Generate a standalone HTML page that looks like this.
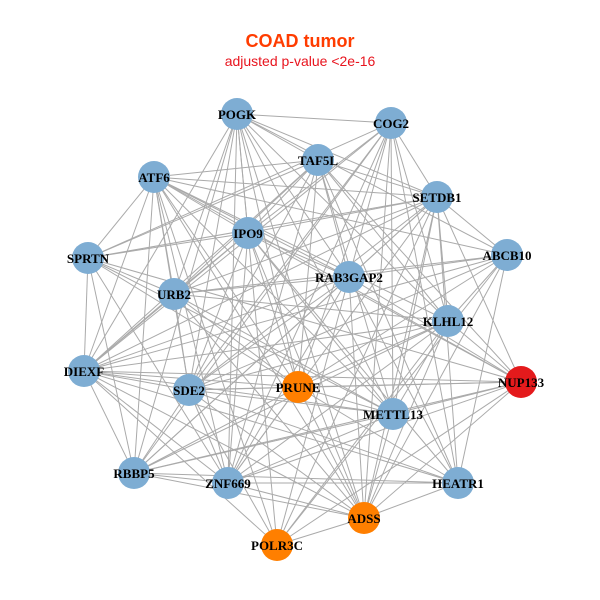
<!DOCTYPE html>
<html><head><meta charset="utf-8"><style>
html,body{margin:0;padding:0;background:#fff;}
svg{display:block;}
</style></head><body>
<svg id="g" width="600" height="600" xmlns="http://www.w3.org/2000/svg">
<rect width="600" height="600" fill="#fff"/>
<text x="300" y="47" text-anchor="middle" font-family="Liberation Sans, sans-serif" font-weight="bold" font-size="18" fill="#ff3c00">COAD tumor</text>
<text x="300" y="66" text-anchor="middle" font-family="Liberation Sans, sans-serif" font-size="14" fill="#e8141e">adjusted p-value &lt;2e-16</text>
<g id="edges" stroke="#aaaaaa" stroke-width="1"></g>
<g id="nodes"></g>
<g id="labels" font-family="Liberation Serif, serif" font-weight="bold" font-size="13" text-anchor="middle" fill="#000"></g>
</svg>
<script>
var N=[["POGK",237,114,"b"],["COG2",391,123,"b"],["TAF5L",318,160,"b"],["ATF6",154,177,"b"],["SETDB1",437,197,"b"],["IPO9",248,233,"b"],["ABCB10",507,255,"b"],["SPRTN",88,258,"b"],["RAB3GAP2",349,277,"b"],["URB2",174,294,"b"],["KLHL12",448,321,"b"],["DIEXF",84,371,"b"],["PRUNE",298,387,"o"],["SDE2",189,390,"b"],["NUP133",521,382,"r"],["METTL13",393,414,"b"],["RBBP5",134,473,"b"],["ZNF669",228,483,"b"],["HEATR1",458,483,"b"],["ADSS",364,518,"o"],["POLR3C",277,545,"o"]];
var ns="http://www.w3.org/2000/svg",E=document.getElementById("edges"),Nd=document.getElementById("nodes"),L=document.getElementById("labels");
var seed=7;function rnd(){seed=(seed*9301+49297)%233280;return seed/233280;}
for(var i=0;i<N.length;i++)for(var j=i+1;j<N.length;j++){if(rnd()<0.2)continue;var l=document.createElementNS(ns,"line");l.setAttribute("x1",N[i][1]);l.setAttribute("y1",N[i][2]);l.setAttribute("x2",N[j][1]);l.setAttribute("y2",N[j][2]);E.appendChild(l);}
var col={b:"#7eadd3",o:"#ff7f00",r:"#e41a1c"};
N.forEach(function(n){var c=document.createElementNS(ns,"circle");c.setAttribute("cx",n[1]);c.setAttribute("cy",n[2]);c.setAttribute("r",16);c.setAttribute("fill",col[n[3]]);Nd.appendChild(c);
var t=document.createElementNS(ns,"text");t.setAttribute("x",n[1]);t.setAttribute("y",n[2]+5);t.textContent=n[0];L.appendChild(t);});
</script>
</body></html>
